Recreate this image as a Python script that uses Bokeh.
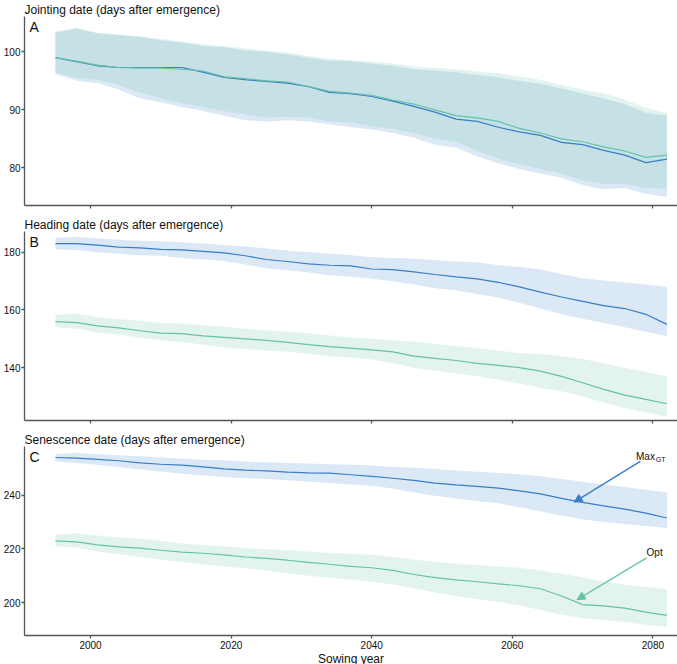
from bokeh.plotting import figure
from bokeh.layouts import column
from bokeh.models import Range1d, FixedTicker, Label, Arrow, NormalHead
from bokeh.embed import file_html
from bokeh.resources import INLINE

# ---------------- data ----------------
years = [1995, 1998, 2001, 2004, 2007, 2010, 2013, 2016, 2019, 2022,
         2025, 2028, 2031, 2034, 2037, 2040, 2043, 2046, 2049, 2052,
         2055, 2058, 2061, 2064, 2067, 2070, 2073, 2076, 2079, 2082]

# Panel A: jointing date
a_max_mean = [99.0, 98.3, 97.6, 97.3, 97.3, 97.3, 97.3, 96.5, 95.6, 95.2,
              94.9, 94.6, 94.0, 93.0, 92.8, 92.3, 91.5, 90.6, 89.6, 88.4,
              88.0, 87.0, 86.2, 85.6, 84.4, 84.0, 83.0, 82.2, 80.9, 81.5]
a_max_hi = [103.3, 104.0, 103.2, 102.9, 102.6, 102.0, 101.6, 101.0, 100.8, 100.3,
            100.0, 99.6, 99.0, 98.5, 98.4, 98.0, 97.6, 97.0, 96.8, 96.5,
            96.0, 95.6, 95.0, 94.5, 93.7, 92.8, 92.0, 91.0, 89.5, 89.0]
a_max_lo = [96.2, 95.0, 94.6, 93.5, 92.0, 91.3, 90.5, 89.8, 89.0, 88.2,
            88.0, 88.2, 88.0, 87.5, 87.0, 86.6, 86.0, 85.2, 84.0, 83.5,
            82.0, 80.8, 79.8, 79.0, 78.3, 77.0, 76.3, 76.5, 75.5, 75.0]
a_opt_mean = [99.0, 98.4, 97.7, 97.3, 97.2, 97.2, 97.0, 96.7, 95.7, 95.4,
              95.0, 94.8, 94.0, 93.2, 92.9, 92.5, 91.7, 91.0, 90.0, 89.0,
              88.6, 88.0, 86.8, 86.0, 85.0, 84.5, 83.6, 82.9, 81.8, 82.2]
a_opt_hi = [103.5, 104.2, 103.3, 103.0, 102.7, 102.2, 101.8, 101.3, 101.0, 100.6,
            100.2, 99.9, 99.3, 98.8, 98.6, 98.3, 98.0, 97.5, 97.2, 97.0,
            96.6, 96.3, 95.8, 95.2, 94.3, 93.5, 92.8, 91.8, 90.3, 89.5]
a_opt_lo = [96.4, 95.5, 95.2, 94.3, 93.0, 92.0, 91.2, 90.5, 89.8, 89.2,
            88.7, 88.8, 88.7, 88.0, 87.8, 87.2, 86.7, 86.0, 85.0, 84.5,
            83.0, 81.6, 80.6, 79.8, 79.0, 77.8, 77.2, 77.3, 76.5, 76.4]

# Panel B: heading date
b_max_mean = [183.0, 183.0, 182.5, 181.8, 181.5, 181.0, 180.8, 180.3, 179.8, 178.8,
              177.5, 176.8, 176.0, 175.5, 175.3, 174.2, 174.0, 173.2, 172.3, 171.5,
              170.8, 169.6, 168.0, 166.2, 164.5, 163.0, 161.5, 160.5, 158.5, 155.0]
b_max_hi = [185.0, 185.3, 184.8, 184.3, 184.0, 183.8, 183.5, 183.0, 182.5, 182.0,
            181.3, 180.5, 180.0, 179.6, 179.0, 178.3, 178.0, 177.8, 177.2, 176.8,
            176.5, 175.5, 175.0, 174.0, 172.5, 171.0, 170.2, 169.5, 168.8, 168.0]
b_max_lo = [181.0, 180.8, 180.0, 179.5, 179.0, 178.8, 178.0, 177.5, 177.0, 175.8,
            174.5, 173.8, 173.0, 172.0, 171.5, 170.8, 170.0, 168.8, 167.5, 166.8,
            165.5, 164.3, 162.5, 160.5, 158.5, 157.0, 155.5, 154.0, 152.5, 151.0]
b_opt_mean = [156.0, 155.6, 154.5, 153.8, 152.8, 152.0, 151.8, 151.0, 150.5, 150.0,
              149.5, 148.8, 148.0, 147.3, 146.8, 146.2, 145.5, 144.0, 143.2, 142.5,
              141.5, 140.8, 140.0, 138.8, 137.0, 134.8, 132.5, 130.5, 129.0, 127.5]
b_opt_hi = [158.3, 158.8, 157.5, 156.8, 156.3, 155.5, 155.3, 154.8, 154.2, 153.5,
            153.0, 152.5, 152.0, 151.2, 150.5, 150.0, 149.5, 149.0, 148.3, 147.5,
            146.8, 146.0, 145.0, 144.8, 144.0, 143.0, 141.5, 140.0, 138.5, 137.0]
b_opt_lo = [154.0, 153.5, 152.2, 151.5, 150.5, 149.5, 148.8, 148.0, 147.0, 146.5,
            146.0, 145.5, 144.8, 144.0, 143.5, 142.8, 141.5, 140.0, 139.0, 138.0,
            137.0, 135.8, 134.5, 133.0, 131.8, 130.0, 128.0, 126.0, 124.5, 123.0]

# Panel C: senescence date
c_max_mean = [254.0, 253.8, 253.3, 252.8, 252.0, 251.5, 251.2, 250.5, 249.8, 249.3,
              249.0, 248.6, 248.3, 248.2, 247.6, 247.0, 246.3, 245.5, 244.5, 243.8,
              243.3, 242.6, 241.6, 240.5, 238.8, 237.3, 236.0, 234.8, 233.3, 231.5]
c_max_hi = [255.3, 255.7, 255.2, 254.8, 254.5, 254.0, 253.6, 253.2, 253.0, 252.5,
            252.2, 252.0, 251.8, 251.5, 251.3, 251.0, 250.6, 250.2, 249.7, 249.2,
            248.7, 248.2, 247.8, 247.0, 246.0, 245.0, 244.0, 243.0, 242.0, 241.0]
c_max_lo = [252.5, 252.0, 251.3, 250.5, 249.5, 248.8, 248.0, 247.3, 246.8, 246.3,
            246.0, 245.5, 245.0, 244.5, 244.0, 243.5, 242.5, 241.0, 239.8, 238.8,
            237.8, 237.0, 235.5, 234.0, 232.3, 231.0, 230.0, 229.3, 228.5, 227.8]
c_opt_mean = [223.0, 222.6, 221.5, 220.8, 220.3, 219.5, 218.8, 218.4, 217.8, 217.0,
              216.5, 215.8, 215.0, 214.3, 213.5, 213.0, 212.0, 210.5, 209.3, 208.5,
              207.8, 207.0, 206.3, 205.2, 202.5, 199.3, 198.8, 198.0, 196.5, 195.3]
c_opt_hi = [225.3, 225.8, 225.0, 224.3, 223.8, 223.0, 222.0, 221.5, 221.0, 220.3,
            220.0, 219.5, 219.0, 218.5, 218.2, 217.8, 217.0, 216.0, 215.2, 214.5,
            214.0, 213.5, 213.0, 212.0, 210.8, 209.5, 208.0, 206.8, 205.8, 205.0]
c_opt_lo = [221.0, 220.5, 219.0, 218.0, 217.0, 216.0, 215.0, 214.3, 213.5, 212.8,
            212.0, 211.0, 210.0, 209.3, 208.5, 207.8, 206.8, 205.3, 203.8, 202.5,
            201.3, 200.3, 199.0, 197.3, 195.5, 194.3, 193.5, 192.8, 191.8, 191.0]

x_ticks = [2000, 2020, 2040, 2060, 2080]
a_ticks = [80, 90, 100]
b_ticks = [140, 160, 180]
c_ticks = [200, 220, 240]

titles = ["Jointing date (days after emergence)",
          "Heading date (days after emergence)",
          "Senescence date (days after emergence)"]
letters = ["A", "B", "C"]

# ---------------- style ----------------
FONT = "Liberation Sans"
BLUE = "#3a7dc9"
GREEN = "#66c2a5"
AXIS = "#555555"
X_RANGE = (1990.6, 2083.5)


def panel(idx, y_range, y_ticks, data, fh, bottom):
    (mx_m, mx_hi, mx_lo, op_m, op_hi, op_lo) = data
    p = figure(width=677, frame_height=fh,
               output_backend="svg", toolbar_location=None,
               x_range=Range1d(*X_RANGE), y_range=Range1d(*y_range),
               min_border_left=0, min_border_right=0, min_border_top=0,
               min_border_bottom=bottom)
    p.title.text = titles[idx]
    p.title.align = "left"
    p.title.text_font = FONT
    p.title.text_font_size = "12px"
    p.title.text_font_style = "normal"
    p.title.text_color = "#111111"
    p.title.standoff = 0
    p.title.offset = 0
    p.outline_line_color = None
    p.grid.visible = False
    p.background_fill_color = "white"

    p.varea(x=years, y1=mx_lo, y2=mx_hi, fill_color=BLUE, fill_alpha=0.18)
    p.varea(x=years, y1=op_lo, y2=op_hi, fill_color=GREEN, fill_alpha=0.18)
    p.line(years, mx_m, line_color=BLUE, line_width=1.2)
    p.line(years, op_m, line_color=GREEN, line_width=1.2)

    for ax in (p.xaxis[0], p.yaxis[0]):
        ax.axis_line_color = AXIS
        ax.axis_line_width = 1.3
        ax.major_tick_line_color = AXIS
        ax.major_tick_line_width = 1.3
        ax.major_tick_out = 3
        ax.major_tick_in = 0
        ax.minor_tick_line_color = None
        ax.major_label_text_font = FONT
        ax.major_label_text_font_size = "10px"
        ax.major_label_text_color = "#111111"
        ax.major_label_standoff = 1
    p.xaxis.ticker = FixedTicker(ticks=x_ticks)
    p.yaxis.ticker = FixedTicker(ticks=y_ticks)
    if idx < 2:
        p.xaxis.major_label_overrides = {t: "" for t in x_ticks}
    else:
        p.xaxis.major_label_standoff = 2
        p.xaxis.axis_label = "Sowing year"
        p.xaxis.axis_label_text_font = FONT
        p.xaxis.axis_label_text_font_size = "12px"
        p.xaxis.axis_label_text_font_style = "normal"
        p.xaxis.axis_label_text_color = "#111111"
        p.xaxis.axis_label_standoff = 0

    p.add_layout(Label(x=X_RANGE[0] + 0.7, y=y_range[1], y_offset=-2,
                       text=letters[idx], text_font=FONT, text_font_size="14px",
                       text_baseline="top", text_color="#111111"))
    return p


pa = panel(0, (73.5, 106.1), a_ticks,
           (a_max_mean, a_max_hi, a_max_lo, a_opt_mean, a_opt_hi, a_opt_lo), 189, 10)
pb = panel(1, (121.7, 187.2), b_ticks,
           (b_max_mean, b_max_hi, b_max_lo, b_opt_mean, b_opt_hi, b_opt_lo), 189, 10)
pc = panel(2, (187.8, 258.1), c_ticks,
           (c_max_mean, c_max_hi, c_max_lo, c_opt_mean, c_opt_hi, c_opt_lo), 189, 0)

# annotations in panel C
max_arrow = (2078.2, 252.6, 2068.8, 237.4)
opt_arrow = (2079.1, 216.7, 2069.2, 201.1)
pc.add_layout(Arrow(end=NormalHead(size=8, fill_color=BLUE, line_color=BLUE),
                    x_start=max_arrow[0], y_start=max_arrow[1],
                    x_end=max_arrow[2], y_end=max_arrow[3],
                    line_color=BLUE, line_width=1.4))
pc.add_layout(Arrow(end=NormalHead(size=8, fill_color=GREEN, line_color=GREEN),
                    x_start=opt_arrow[0], y_start=opt_arrow[1],
                    x_end=opt_arrow[2], y_end=opt_arrow[3],
                    line_color=GREEN, line_width=1.4))
pc.add_layout(Label(x=2077.6, y=254.4, text="Max", text_font=FONT,
                    text_font_size="10px", text_baseline="middle", text_color="#111111"))
pc.add_layout(Label(x=2080.4, y=253.3, text="GT", text_font=FONT,
                    text_font_size="7px", text_baseline="middle", text_color="#111111"))
pc.add_layout(Label(x=2079.1, y=218.5, text="Opt", text_font=FONT,
                    text_font_size="10px", text_baseline="middle", text_color="#111111"))

layout = column(pa, pb, pc, spacing=0)
open("out.html", "w").write(file_html(layout, INLINE))
